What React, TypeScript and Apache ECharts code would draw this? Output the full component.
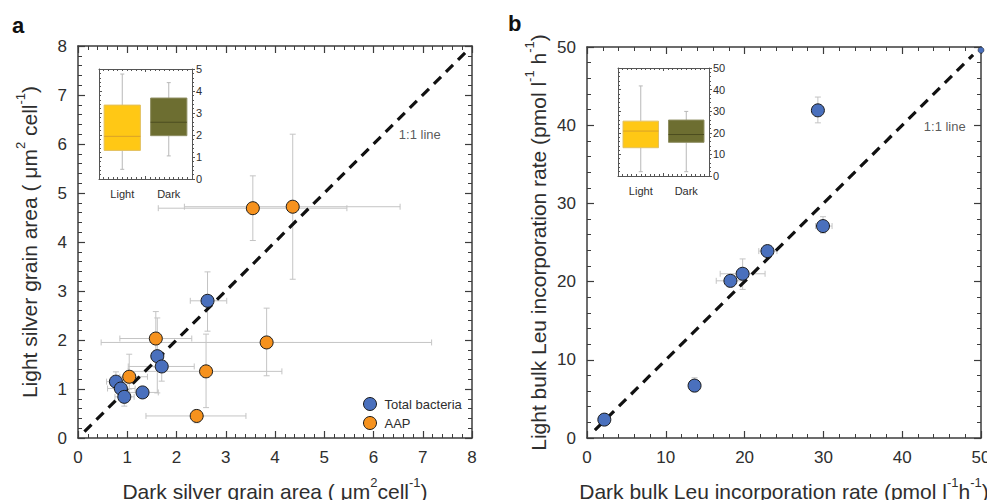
import React, { useEffect, useRef } from "react";
import * as echarts from "echarts";

// ---------- Panel a data: [x, y, xLow, xHigh, yLow, yHigh] ----------
const totalBacteriaA = [
  [2.63, 2.8, 2.28, 3.02, 2.18, 3.39],
  [1.61, 1.67, 1.61, 1.61, 0.92, 2.45],
  [1.7, 1.46, 1.02, 2.36, 1.16, 1.7],
  [1.31, 0.93, 1.04, 1.63, 0.93, 0.93],
  [0.77, 1.15, 0.58, 1.0, 1.0, 1.35],
  [0.87, 1.01, 0.6, 1.16, 0.9, 1.1],
  [0.94, 0.84, 0.75, 1.14, 0.65, 0.95],
];
const aapA = [
  [1.58, 2.03, 0.85, 2.31, 1.45, 2.58],
  [3.83, 1.95, 0.47, 7.18, 1.27, 2.65],
  [2.6, 1.36, 1.02, 4.14, 0.62, 2.12],
  [1.04, 1.25, 0.85, 1.41, 1.0, 1.71],
  [2.41, 0.45, 1.38, 3.41, 0.31, 0.57],
  [3.55, 4.69, 1.63, 5.46, 4.03, 5.35],
  [4.36, 4.72, 2.16, 6.54, 3.24, 6.2],
];
const oneToOneA = [
  [0.13, 0.13],
  [7.87, 7.87],
];
const labelPosA = [[6.94, 6.2]];

// ---------- Panel b data ----------
const totalBacteriaB = [
  [2.2, 2.35, 2.2, 2.2, 2.35, 2.35],
  [13.65, 6.7, 13.65, 13.65, 5.9, 7.7],
  [18.2, 20.1, 16.4, 19.8, 19.3, 20.8],
  [19.75, 21.0, 16.9, 22.6, 19.0, 22.9],
  [22.9, 23.9, 21.8, 24.1, 23.2, 24.6],
  [29.95, 27.1, 29.0, 31.1, 26.2, 28.3],
  [29.3, 41.9, 29.3, 29.3, 40.3, 43.6],
];
const edgePointB = [[50, 49.6]];
const oneToOneB = [
  [1, 1],
  [49, 49],
];
const labelPosB = [[45.4, 39.8]];

// ---------- Inset box plots: [min, Q1, median, Q3, max] ----------
const boxCategories = ["Light", "Dark"];
const boxA = [
  [0.44, 1.3, 1.94, 3.36, 4.77],
  [1.05, 1.97, 2.58, 3.68, 4.38],
];
const boxB = [
  [2.0, 13.1, 20.8, 25.4, 41.7],
  [2.0, 15.6, 19.2, 25.9, 29.9],
];

const seriesNames = ["Total bacteria", "AAP"];

const FONT = "'Liberation Sans', Arial, Helvetica, sans-serif";
const AXIS_COLOR = "#3c3c3c";
const TEXT_COLOR = "#2e2e2e";
const BLUE = "#4a70bd";
const ORANGE = "#f6921e";
const BOX_FILL = ["#ffc815", "#6d6e31"];
const BOX_MEDIAN = ["#d8a12a", "#4c4d20"];
const BOX_BORDER = ["#e2c060", "#8e8e62"];

function errorBarRender(params: any, api: any) {
  const x = api.value(0);
  const y = api.value(1);
  const xl = api.value(2);
  const xh = api.value(3);
  const yl = api.value(4);
  const yh = api.value(5);
  const a = api.coord([xl, y]);
  const b = api.coord([xh, y]);
  const c = api.coord([x, yl]);
  const d = api.coord([x, yh]);
  const cap = 3;
  const style = { stroke: "#c4c4c4", lineWidth: 1, fill: null };
  const children: any[] = [];
  if (Math.abs(b[0] - a[0]) > 1) {
    children.push({ type: "line", shape: { x1: a[0], y1: a[1], x2: b[0], y2: b[1] }, style });
    children.push({ type: "line", shape: { x1: a[0], y1: a[1] - cap, x2: a[0], y2: a[1] + cap }, style });
    children.push({ type: "line", shape: { x1: b[0], y1: b[1] - cap, x2: b[0], y2: b[1] + cap }, style });
  }
  if (Math.abs(d[1] - c[1]) > 1) {
    children.push({ type: "line", shape: { x1: c[0], y1: c[1], x2: d[0], y2: d[1] }, style });
    children.push({ type: "line", shape: { x1: c[0] - cap, y1: c[1], x2: c[0] + cap, y2: c[1] }, style });
    children.push({ type: "line", shape: { x1: d[0] - cap, y1: d[1], x2: d[0] + cap, y2: d[1] }, style });
  }
  return { type: "group", children };
}

function boxRender(params: any, api: any) {
  const cat = api.value(0);
  const mn = api.coord([cat, api.value(1)]);
  const q1 = api.coord([cat, api.value(2)]);
  const md = api.coord([cat, api.value(3)]);
  const q3 = api.coord([cat, api.value(4)]);
  const mx = api.coord([cat, api.value(5)]);
  const bw = api.size([1, 0])[0] * 0.78;
  const cx = q1[0];
  const i = params.dataIndex;
  const wStyle = { stroke: "#b8b8b8", lineWidth: 1, fill: null };
  const cap = 2;
  return {
    type: "group",
    children: [
      { type: "line", shape: { x1: cx, y1: mx[1], x2: cx, y2: q3[1] }, style: wStyle },
      { type: "line", shape: { x1: cx, y1: q1[1], x2: cx, y2: mn[1] }, style: wStyle },
      { type: "line", shape: { x1: cx - cap, y1: mx[1], x2: cx + cap, y2: mx[1] }, style: wStyle },
      { type: "line", shape: { x1: cx - cap, y1: mn[1], x2: cx + cap, y2: mn[1] }, style: wStyle },
      {
        type: "rect",
        shape: { x: cx - bw / 2, y: q3[1], width: bw, height: q1[1] - q3[1] },
        style: { fill: BOX_FILL[i], stroke: BOX_BORDER[i], lineWidth: 1 },
      },
      {
        type: "line",
        shape: { x1: cx - bw / 2, y1: md[1], x2: cx + bw / 2, y2: md[1] },
        style: { stroke: BOX_MEDIAN[i], lineWidth: 1 },
      },
    ],
  };
}

function mainValueAxis(grid: number, min: number, max: number, interval: number, position: string, showLabel: boolean, extra: any = {}) {
  return {
    type: "value",
    gridIndex: grid,
    min,
    max,
    interval,
    position,
    axisLine: { show: true, onZero: false, lineStyle: { color: AXIS_COLOR, width: 1.5 } },
    axisTick: { show: true, inside: true, length: 7, lineStyle: { color: AXIS_COLOR, width: 1.2 } },
    minorTick: { show: true, splitNumber: 5, length: 4, lineStyle: { color: AXIS_COLOR, width: 1 } },
    axisLabel: { show: showLabel, fontSize: 17, color: TEXT_COLOR, fontFamily: FONT, margin: 11 },
    splitLine: { show: false },
    minorSplitLine: { show: false },
    ...extra,
  };
}

function insetValueAxis(grid: number, min: number, max: number, interval: number, position: string, showLabel: boolean, minorSplit: number, inside: boolean) {
  return {
    type: "value",
    gridIndex: grid,
    min,
    max,
    interval,
    position,
    axisLine: { show: true, onZero: false, lineStyle: { color: "#555", width: 1 } },
    axisTick: { show: true, inside, length: 3, lineStyle: { color: "#555", width: 1 } },
    minorTick: { show: true, splitNumber: minorSplit, length: 2, lineStyle: { color: "#555", width: 1 } },
    axisLabel: { show: showLabel, fontSize: 11, color: TEXT_COLOR, fontFamily: FONT, margin: 4 },
    splitLine: { show: false },
  };
}

function insetCatAxis(grid: number) {
  return {
    type: "category",
    gridIndex: grid,
    data: boxCategories,
    position: "bottom",
    axisLine: { show: false },
    axisTick: { show: false },
    axisLabel: { fontSize: 11, color: TEXT_COLOR, fontFamily: FONT, margin: 9 },
    splitLine: { show: false },
  };
}

const nameRich = {
  sup: { fontSize: 13, lineHeight: 13, verticalAlign: "top", fontFamily: FONT, color: TEXT_COLOR },
};
const nameStyle = { fontSize: 21, lineHeight: 30, color: TEXT_COLOR, fontFamily: FONT, rich: nameRich };

export default function App() {
  const ref = useRef<HTMLDivElement>(null);
  useEffect(() => {
    if (!ref.current) return;
    const chart = echarts.init(ref.current, null, { renderer: "svg" });
    const option: any = {
      animation: false,
      backgroundColor: "#ffffff",
      textStyle: { fontFamily: FONT },
      grid: [
        { left: 78, top: 46, width: 394, height: 392, outerBoundsMode: "none", containLabel: false },
        { left: 587, top: 47, width: 394, height: 391, outerBoundsMode: "none", containLabel: false },
        { left: 99, top: 69, width: 93, height: 110, outerBoundsMode: "none", containLabel: false },
        { left: 618, top: 68, width: 91, height: 108, outerBoundsMode: "none", containLabel: false },
      ],
      xAxis: [
        mainValueAxis(0, 0, 8, 1, "bottom", true, {
          name: "Dark silver grain area ( μm{sup|2}cell{sup|-1})",
          nameLocation: "middle",
          nameGap: 38,
          nameTextStyle: nameStyle,
        }),
        mainValueAxis(0, 0, 8, 1, "top", false),
        mainValueAxis(1, 0, 50, 10, "bottom", true, {
          name: "Dark bulk Leu incorporation rate (pmol l{sup|-1}h{sup|-1})",
          nameLocation: "middle",
          nameGap: 38,
          nameTextStyle: nameStyle,
        }),
        mainValueAxis(1, 0, 50, 10, "top", false),
        insetCatAxis(2),
        insetValueAxis(2, 0, 2, 1, "bottom", false, 10, true),
        insetValueAxis(2, 0, 2, 1, "top", false, 10, true),
        insetCatAxis(3),
        insetValueAxis(3, 0, 2, 1, "bottom", false, 10, true),
        insetValueAxis(3, 0, 2, 1, "top", false, 10, true),
      ],
      yAxis: [
        mainValueAxis(0, 0, 8, 1, "left", true, {
          name: "Light silver grain area ( μm{sup|2} cell{sup|-1})",
          nameLocation: "middle",
          nameGap: 34,
          nameTextStyle: nameStyle,
        }),
        mainValueAxis(0, 0, 8, 1, "right", false),
        mainValueAxis(1, 0, 50, 10, "left", true, {
          name: "Light bulk Leu incorporation rate (pmol l{sup|-1} h{sup|-1})",
          nameLocation: "middle",
          nameGap: 34,
          nameTextStyle: nameStyle,
        }),
        mainValueAxis(1, 0, 50, 10, "right", false),
        insetValueAxis(2, 0, 5, 1, "right", true, 5, false),
        insetValueAxis(2, 0, 5, 1, "left", false, 5, true),
        insetValueAxis(3, 0, 50, 10, "right", true, 5, false),
        insetValueAxis(3, 0, 50, 10, "left", false, 5, true),
      ],
      legend: {
        data: seriesNames,
        orient: "vertical",
        left: 358,
        top: 392,
        itemGap: 5,
        itemWidth: 13,
        itemHeight: 13,
        icon: "circle",
        itemStyle: { borderColor: "#1a1a1a", borderWidth: 1 },
        textStyle: { fontSize: 13, color: TEXT_COLOR, fontFamily: FONT, padding: [0, 0, 0, 3] },
      },
      graphic: [
        { type: "text", left: 12, top: 14, style: { text: "a", font: `bold 22px ${FONT}`, fill: "#111" } },
        { type: "text", left: 508, top: 12, style: { text: "b", font: `bold 22px ${FONT}`, fill: "#111" } },
      ],
      series: [
        {
          type: "custom",
          name: "errA1",
          xAxisIndex: 0,
          yAxisIndex: 0,
          renderItem: errorBarRender,
          data: totalBacteriaA,
          z: 1,
          silent: true,
        },
        {
          type: "custom",
          name: "errA2",
          xAxisIndex: 0,
          yAxisIndex: 0,
          renderItem: errorBarRender,
          data: aapA,
          z: 1,
          silent: true,
        },
        {
          type: "line",
          name: "diagA",
          xAxisIndex: 0,
          yAxisIndex: 0,
          data: oneToOneA,
          symbol: "none",
          lineStyle: { color: "#111", width: 3.2, type: [10, 7], cap: "butt" },
          z: 2,
        },
        {
          type: "scatter",
          name: "Total bacteria",
          xAxisIndex: 0,
          yAxisIndex: 0,
          data: totalBacteriaA.map((d) => [d[0], d[1]]),
          symbolSize: 13,
          itemStyle: { color: BLUE, borderColor: "#1a1a1a", borderWidth: 1, opacity: 1 },
          z: 3,
        },
        {
          type: "scatter",
          name: "AAP",
          xAxisIndex: 0,
          yAxisIndex: 0,
          data: aapA.map((d) => [d[0], d[1]]),
          symbolSize: 13,
          itemStyle: { color: ORANGE, borderColor: "#1a1a1a", borderWidth: 1, opacity: 1 },
          z: 3,
        },
        {
          type: "scatter",
          name: "labelA",
          xAxisIndex: 0,
          yAxisIndex: 0,
          data: labelPosA,
          symbolSize: 0,
          label: { show: true, formatter: "1:1 line", position: "inside", fontSize: 13, color: TEXT_COLOR, fontFamily: FONT },
        },
        {
          type: "custom",
          name: "errB",
          xAxisIndex: 2,
          yAxisIndex: 2,
          renderItem: errorBarRender,
          data: totalBacteriaB,
          z: 1,
          silent: true,
        },
        {
          type: "line",
          name: "diagB",
          xAxisIndex: 2,
          yAxisIndex: 2,
          data: oneToOneB,
          symbol: "none",
          lineStyle: { color: "#111", width: 3.2, type: [10, 7], cap: "butt" },
          z: 2,
        },
        {
          type: "scatter",
          name: "Total bacteria",
          xAxisIndex: 2,
          yAxisIndex: 2,
          data: totalBacteriaB.map((d) => [d[0], d[1]]),
          symbolSize: 13,
          itemStyle: { color: BLUE, borderColor: "#1a1a1a", borderWidth: 1, opacity: 1 },
          z: 3,
        },
        {
          type: "scatter",
          name: "edgeB",
          xAxisIndex: 2,
          yAxisIndex: 2,
          data: edgePointB,
          symbolSize: 6,
          itemStyle: { color: BLUE, borderColor: "#1a1a1a", borderWidth: 0.5, opacity: 1 },
          z: 3,
        },
        {
          type: "scatter",
          name: "labelB",
          xAxisIndex: 2,
          yAxisIndex: 2,
          data: labelPosB,
          symbolSize: 0,
          label: { show: true, formatter: "1:1 line", position: "inside", fontSize: 13, color: TEXT_COLOR, fontFamily: FONT },
        },
        {
          type: "custom",
          name: "boxA",
          xAxisIndex: 4,
          yAxisIndex: 4,
          renderItem: boxRender,
          data: boxA.map((b, i) => [i, ...b]),
          z: 2,
          silent: true,
        },
        {
          type: "custom",
          name: "boxB",
          xAxisIndex: 7,
          yAxisIndex: 6,
          renderItem: boxRender,
          data: boxB.map((b, i) => [i, ...b]),
          z: 2,
          silent: true,
        },
      ],
    };
    chart.setOption(option);
    return () => chart.dispose();
  }, []);
  return <div ref={ref} style={{ width: 987, height: 500, position: "absolute", left: 0, top: 0 }} />;
}
